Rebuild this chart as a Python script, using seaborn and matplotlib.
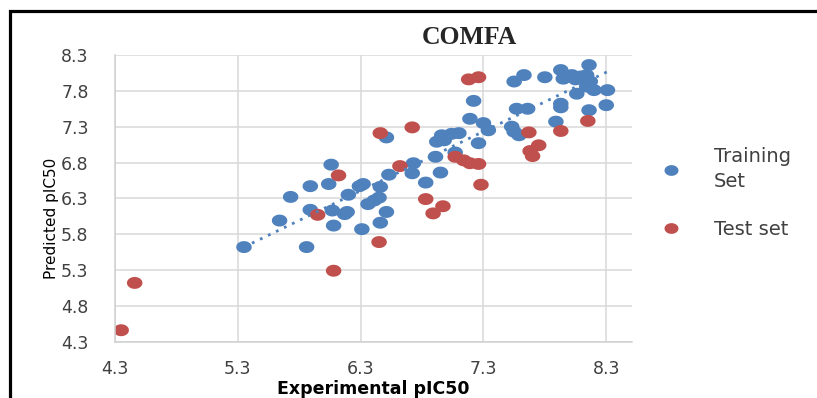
import numpy as np
import pandas as pd
import seaborn as sns
import matplotlib
matplotlib.use("Agg")
from matplotlib import pyplot as plt
from matplotlib.patches import Rectangle

sns.set_style("white")
plt.rcParams['font.family'] = ['DejaVu Sans']

# values
train_exp = [5.35, 5.86, 5.64, 5.73, 5.89, 5.89, 6.06, 6.04, 6.07, 6.08,
             6.17, 6.19, 6.20, 6.29, 6.32, 6.31, 6.36, 6.41, 6.45, 6.46,
             6.51, 6.46, 6.53, 6.51, 6.72, 6.73, 6.83, 6.95, 6.91, 6.92,
             6.96, 6.98, 7.04, 7.10, 7.07, 7.19, 7.22, 7.26, 7.30, 7.34,
             7.55, 7.63, 7.80, 7.57, 7.66, 7.53, 7.55, 7.59, 7.89, 7.93,
             7.93, 8.06, 8.16, 8.31, 8.30, 8.16, 7.93, 7.97, 8.02, 8.09,
             8.14, 8.17, 8.20, 8.14, 7.95, 8.05]
train_pred = [5.62, 5.62, 5.99, 6.32, 6.47, 6.14, 6.77, 6.50, 6.13, 5.92,
              6.08, 6.11, 6.35, 6.47, 6.50, 5.87, 6.22, 6.27, 6.31, 6.46,
              6.11, 5.96, 6.63, 7.15, 6.65, 6.79, 6.52, 6.66, 6.88, 7.09,
              7.18, 7.11, 7.20, 7.21, 6.94, 7.41, 7.66, 7.07, 7.35, 7.25,
              7.93, 8.02, 7.99, 7.55, 7.55, 7.30, 7.23, 7.18, 7.37, 7.62,
              7.57, 7.76, 7.53, 7.81, 7.60, 8.16, 8.09, 8.00, 8.02, 8.00,
              8.02, 7.93, 7.81, 7.86, 7.97, 7.96]

test_exp = [4.35, 4.46, 6.08, 6.45, 5.95, 6.12, 6.46, 6.72, 6.62, 6.83,
            6.89, 6.97, 7.07, 7.14, 7.19, 7.26, 7.28, 7.18, 7.26, 7.67,
            7.75, 7.68, 7.70, 7.93, 8.15]
test_pred = [4.46, 5.12, 5.29, 5.69, 6.07, 6.62, 7.21, 7.29, 6.75, 6.29,
             6.09, 6.19, 6.88, 6.83, 6.79, 6.78, 6.49, 7.96, 7.99, 7.22,
             7.04, 6.96, 6.89, 7.24, 7.38]

x_ticks = [4.3, 5.3, 6.3, 7.3, 8.3]
y_ticks = [4.3, 4.8, 5.3, 5.8, 6.3, 6.8, 7.3, 7.8, 8.3]

blue = '#4F81BD'
red = '#C0504D'

df = pd.DataFrame({
    'exp': train_exp + test_exp,
    'pred': train_pred + test_pred,
    'set': ['Training\nSet'] * len(train_exp) + ['Test set'] * len(test_exp),
})
train = df[df['set'] == 'Training\nSet']

# slightly wide oval marker like the original
t = np.linspace(0, 2 * np.pi, 41)
oval = list(zip(1.3 * np.cos(t), np.sin(t)))

fig = plt.figure(figsize=(8.17, 3.98), dpi=100)
ax = fig.add_axes([0.1408, 0.1415, 0.6328, 0.7203])

sns.scatterplot(data=df, x='exp', y='pred', hue='set',
                palette={'Training\nSet': blue, 'Test set': red},
                marker=oval, s=125, linewidth=0, edgecolor='none', ax=ax)
sns.regplot(data=train, x='exp', y='pred', scatter=False, ci=None, ax=ax,
            line_kws=dict(color=blue, lw=2, linestyle=(0, (1, 2.2))))

ax.set_xlim(4.3, 8.51)
ax.set_ylim(4.3, 8.3)
ax.set_xticks(x_ticks)
ax.set_yticks(y_ticks)
ax.set_xticklabels([f'{v:.1f}' for v in x_ticks])
ax.set_yticklabels([f'{v:.1f}' for v in y_ticks])
ax.tick_params(axis='x', length=0, pad=13, labelsize=12.5, labelcolor='#404040')
ax.tick_params(axis='y', length=0, pad=19, labelsize=12.5, labelcolor='#404040')
ax.grid(True, color='#D9D9D9', lw=1.1)
ax.set_axisbelow(True)
for side in ['top', 'right']:
    ax.spines[side].set_visible(False)
for side in ['left', 'bottom']:
    ax.spines[side].set_color('#CFCFCF')
    ax.spines[side].set_linewidth(1.1)

ax.set_xlabel('Experimental pIC50', fontsize=12.5, fontweight='bold', color='black')
ax.xaxis.set_label_coords(0.5, -0.135)
ax.set_ylabel('Predicted pIC50', fontsize=11, color='black', va='center')
ax.yaxis.set_label_coords(-0.122, 0.431)

fig.text(0.575, 0.905, 'COMFA', family='Liberation Serif', fontweight='bold',
         fontsize=18.5, ha='center', va='center')

leg = ax.legend(loc='center left', bbox_to_anchor=(0.776, 0.515),
                bbox_transform=fig.transFigure, frameon=False, fontsize=14,
                markerscale=0.9, handletextpad=1.2, labelspacing=1.5,
                title=None)
for txt in leg.get_texts():
    txt.set_color('#404040')
    txt.set_linespacing(1.35)

top = 1 - 11 / 398
fig.add_artist(Rectangle((10 / 817, -0.2), 1.2, top + 0.2,
                         transform=fig.transFigure, fill=False,
                         edgecolor='black', lw=2.3, clip_on=False))

fig.savefig('out.png', dpi=100)
